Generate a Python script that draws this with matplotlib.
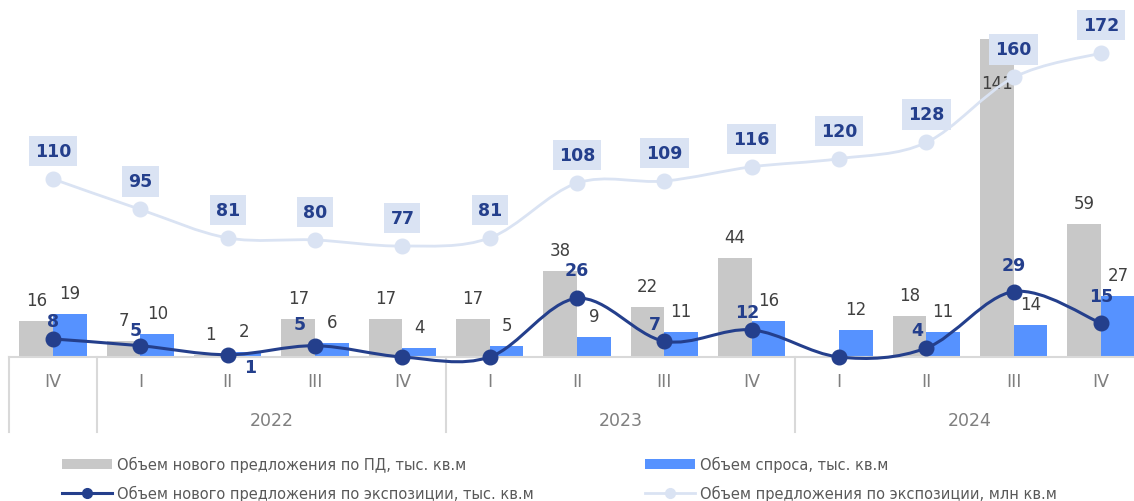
#!/usr/bin/env python3
"""Quarterly supply / demand combo chart (bars + smoothed lines)."""

import matplotlib

matplotlib.use("Agg")
import matplotlib.pyplot as plt
import matplotlib.transforms as mtransforms
import numpy as np
from matplotlib.lines import Line2D
from matplotlib.patches import Patch, PathPatch
from matplotlib.path import Path

quarters = ["IV", "I", "II", "III", "IV", "I", "II", "III", "IV", "I", "II", "III", "IV"]
years = ["2022", "2023", "2024"]
year_first = [1, 5, 9]
year_last = [4, 8, 12]

new_supply_pd = [16, 7, 1, 17, 17, 17, 38, 22, 44, 0, 18, 141, 59]
demand = [19, 10, 2, 6, 4, 5, 9, 11, 16, 12, 11, 14, 27]
new_supply_exp = [8, 5, 1, 5, 0, 0, 26, 7, 12, 0, 4, 29, 15]
supply_exp = [110, 95, 81, 80, 77, 81, 108, 109, 116, 120, 128, 160, 172]

legend_labels = [
    "Объем нового предложения по ПД, тыс. кв.м",
    "Объем спроса, тыс. кв.м",
    "Объем нового предложения по экспозиции, тыс. кв.м",
    "Объем предложения по экспозиции, млн кв.м",
]

GRAY = "#C8C8C8"
BLUE = "#5692FF"
NAVY = "#243F8C"
LIGHT = "#DAE3F3"
TXT = "#404040"
AXTXT = "#7F7F7F"
GRID = "#D9D9D9"

PX = 0.72  # points per pixel at dpi 100

# label nudges for the dark line, in pixels (dx, dy)
navy_offsets = [(0, 18), (-5, 16), (22, -12), (-15, 22), (0, 18), (0, 18),
                (0, 28), (-10, 17), (-5, 18), (0, 18), (-9, 18), (0, 27), (0, 27)]


def smooth_path(xs, ys):
    pts = np.column_stack([xs, ys]).astype(float)
    n = len(pts)
    verts = [pts[0]]
    codes = [Path.MOVETO]
    for i in range(n - 1):
        p0 = pts[max(i - 1, 0)]
        p1 = pts[i]
        p2 = pts[i + 1]
        p3 = pts[min(i + 2, n - 1)]
        verts += [p1 + (p2 - p0) / 6, p2 - (p3 - p1) / 6, p2]
        codes += [Path.CURVE4] * 3
    return Path(verts, codes)


fig = plt.figure(figsize=(11.34, 5.02), dpi=100)
ax = fig.add_axes([9.4 / 1134, 1 - 358 / 502, 1135.3 / 1134, 358 / 502])
ax2 = ax.twinx()

x = np.arange(len(quarters))
w = 0.385

ax.bar(x - w / 2, new_supply_pd, w, color=GRAY, zorder=2)
ax.bar(x + w / 2, demand, w, color=BLUE, zorder=2)
ax.set_xlim(-0.5, len(quarters) - 0.5)
ax.set_ylim(0, 358 / 2.255)
ax2.set_ylim(22.4, 198.6)

top = ax.get_ylim()[1]
for xi, v in zip(x, new_supply_pd):
    if v == 0:
        continue
    dy = -44 if v > 0.85 * top else 21
    ax.annotate(str(v), (xi - w / 2, v), xytext=(0, dy * PX), textcoords="offset points",
                ha="center", va="center", fontsize=12, color=TXT, zorder=6)
for xi, v in zip(x, demand):
    ax.annotate(str(v), (xi + w / 2, v), xytext=(0, 21 * PX), textcoords="offset points",
                ha="center", va="center", fontsize=12, color=TXT, zorder=6)

# dark smoothed line
ax.add_patch(PathPatch(smooth_path(x, new_supply_exp), facecolor="none", edgecolor=NAVY,
                       lw=2.2, zorder=4, clip_on=False))
ax.plot(x, new_supply_exp, "o", color=NAVY, ms=10.5, zorder=5, clip_on=False)
for xi, v, (dx, dy) in zip(x, new_supply_exp, navy_offsets):
    if v == 0:
        continue
    ax.annotate(str(v), (xi, v), xytext=(dx * PX, dy * PX), textcoords="offset points",
                ha="center", va="center", fontsize=12.5, fontweight="bold", color=NAVY, zorder=6)

# light smoothed line on secondary axis
ax2.add_patch(PathPatch(smooth_path(x, supply_exp), facecolor="none", edgecolor=LIGHT,
                        lw=2.0, zorder=3, clip_on=False))
ax2.plot(x, supply_exp, "o", color=LIGHT, ms=10.5, zorder=4, clip_on=False)
for xi, v in zip(x, supply_exp):
    ax2.annotate(str(v), (xi, v), xytext=(0, 28 * PX), textcoords="offset points",
                 ha="center", va="center", fontsize=12.5, fontweight="bold", color=NAVY,
                 bbox=dict(boxstyle="square,pad=0.35", fc=LIGHT, ec="none"), zorder=6)

for a in (ax, ax2):
    for side in ("left", "right", "top"):
        a.spines[side].set_visible(False)
    a.set_yticks([])
ax2.spines["bottom"].set_visible(False)
ax.spines["bottom"].set_color(GRID)
ax.spines["bottom"].set_linewidth(1.5)

ax.set_xticks(x)
ax.set_xticklabels(quarters, fontsize=12.5, color=AXTXT)
ax.tick_params(axis="x", length=0, pad=15 * PX)

trans = mtransforms.blended_transform_factory(ax.transData, ax.transAxes)
for name, a, b in zip(years, year_first, year_last):
    ax.text((x[a] + x[b]) / 2, -(421 - 358) / 358, name, transform=trans,
            ha="center", va="center", fontsize=12.5, color=AXTXT)

sep_y = -(433 - 358) / 358
for xs in [x[0] - 0.5] + [x[a] - 0.5 for a in year_first]:
    ax.plot([xs, xs], [0, sep_y], transform=trans, color=GRID, lw=1.5, clip_on=False)

handles = [
    Patch(facecolor=GRAY, edgecolor="none"),
    Patch(facecolor=BLUE, edgecolor="none"),
    Line2D([], [], color=NAVY, lw=2.2, marker="o", ms=7),
    Line2D([], [], color=LIGHT, lw=2.0, marker="o", ms=7),
]
common = dict(frameon=False, fontsize=10.5, handlelength=3.4, handletextpad=0.4,
              labelspacing=0.89, borderpad=0, borderaxespad=0, labelcolor="#595959",
              loc="upper left")
fig.legend([handles[0], handles[2]], [legend_labels[0], legend_labels[2]],
           bbox_to_anchor=(62 / 1134, 1 - 457 / 502), **common)
fig.legend([handles[1], handles[3]], [legend_labels[1], legend_labels[3]],
           bbox_to_anchor=(645 / 1134, 1 - 457 / 502), **common)

fig.savefig("out.png", dpi=100)
